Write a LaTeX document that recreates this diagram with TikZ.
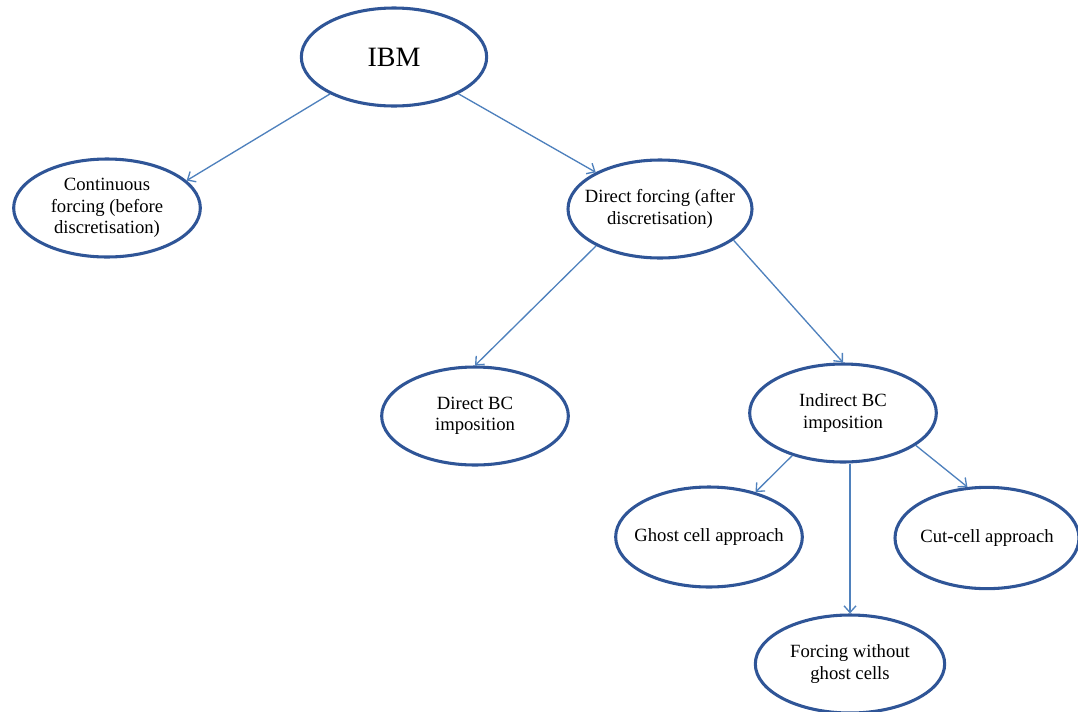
\documentclass[tikz,border=0pt]{standalone}
\usepackage{fontspec}
\setmainfont{Liberation Serif}
\usetikzlibrary{positioning,shapes.geometric,arrows.meta}
\definecolor{ovalblue}{RGB}{47,85,151}
\definecolor{linkblue}{RGB}{79,129,189}

\begin{document}
\begin{tikzpicture}[x=0.75pt, y=-0.75pt, on grid, >={Straight Barb[length=5pt,width=9pt]},
                    main/.style = {draw=ovalblue, line width=2.3pt, ellipse, fill=white, inner ysep=0pt, inner xsep=-16pt, align=center,
                                   minimum width=140pt, minimum height=73.5pt, font=\fontsize{14}{16}\selectfont},
                    link/.style = {draw=linkblue, line width=1pt, ->}]
                    \useasboundingbox (0,0) rectangle (1078,711);
                    \node[main, minimum width=139pt, font=\fontsize{21}{24}\selectfont] (ibm) at (394,57) {IBM};
                    \node[main] (cont) [below left=113.25pt and 215.25pt of ibm] {Continuous\\forcing (before\\discretisation)};
                    \node[main, minimum width=138pt] (df) [below right=114pt and 199.5pt of ibm] {Direct forcing (after\\discretisation)};
                    \node[main] (dbc) [below left=155.25pt and 138.75pt of df] {Direct BC\\imposition};
                    \node[main] (ibc) [below right=153pt and 137.25pt of df] {Indirect BC\\imposition};
                    \node[main, minimum height=75pt] (ghost) [below left=93pt and 100.5pt of ibc] {Ghost cell approach};
                    \node[main, minimum width=138pt, minimum height=76pt] (cut) [below right=93.75pt and 108pt of ibc] {Cut-cell approach};
                    \node[main, minimum width=142pt] (fwg) [below right=188.25pt and 5.25pt of ibc] {Forcing without\\ghost cells};

                    \draw[link] (ibm.210) -- (cont.19);
                    \draw[link] (ibm) -- (df);
                    \draw[link] (df.210) -- (dbc.north);
                    \draw[link] (df.337) -- (ibc.north);
                    \draw[link] (ibc.220) -- (ghost.44);
                    \draw[link] (fwg.north |- ibc.south) -- (fwg.north);
                    \draw[link] (ibc.336) -- (cut.111);
                \end{tikzpicture}
\end{document}
